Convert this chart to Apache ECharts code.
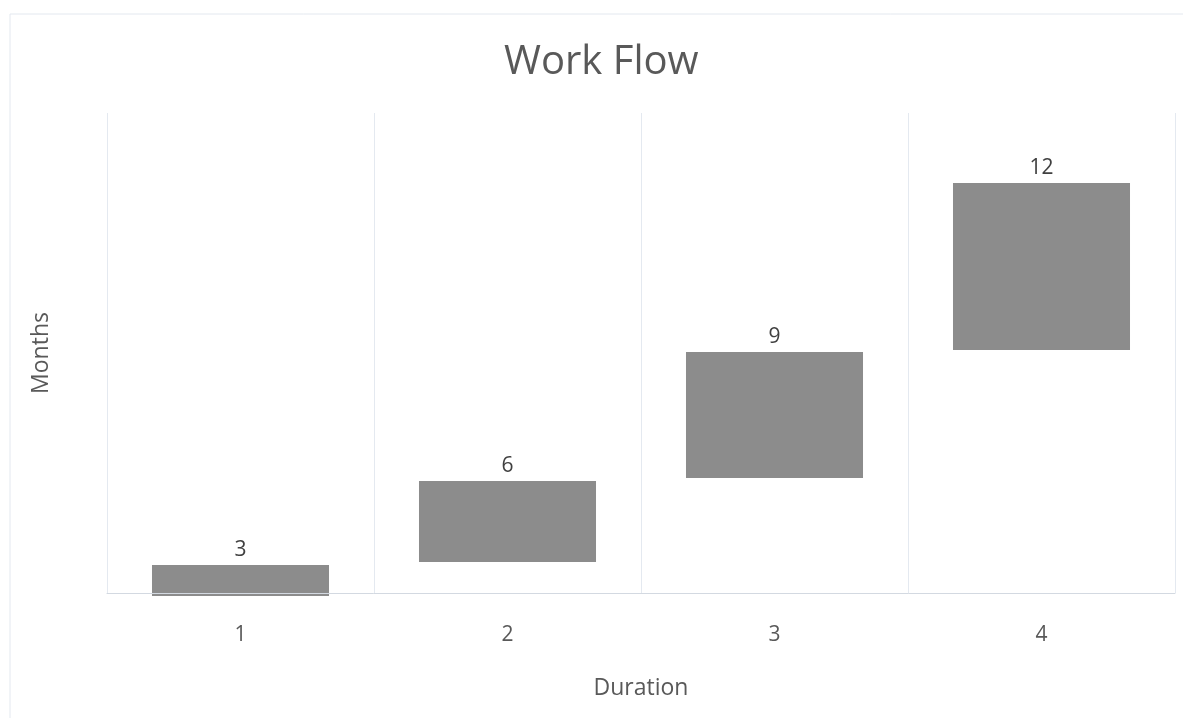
<!DOCTYPE html>
<html>
<head>
<meta charset="utf-8">
<script src="https://cdn.jsdelivr.net/npm/echarts@6/dist/echarts.min.js"></script>
<style>
html,body{margin:0;padding:0;background:#fff;}
#c{width:1183px;height:718px;}
</style>
</head>
<body>
<div id="c"></div>
<script>
// Data
const categories = ['1', '2', '3', '4'];
const barStart = [-0.3, 3.1, 11.5, 24.3];   // bottom of each floating bar
const barEnd = [2.8, 11.2, 24.1, 41.0];     // top of each floating bar
const barLabels = ['3', '6', '9', '12'];

const FONT = '"Open Sans", "Noto Sans", sans-serif';
const chart = echarts.init(document.getElementById('c'));

const seriesData = categories.map((c, i) => [i, barStart[i], barEnd[i]]);

chart.setOption({
  backgroundColor: '#ffffff',
  animation: false,
  graphic: [{
    type: 'rect',
    shape: { x: 10, y: 14, width: 1180, height: 710 },
    style: { fill: 'none', stroke: '#e3e8ef', lineWidth: 1 },
    silent: true,
    z: -1
  }],
  title: {
    text: 'Work Flow',
    left: 499,
    top: 38,
    textStyle: { fontFamily: FONT, fontSize: 40, fontWeight: 'normal', color: '#595959' }
  },
  grid: { left: 107, right: 8, top: 113, bottom: 125 },
  xAxis: {
    type: 'category',
    z: 5,
    data: categories,
    boundaryGap: true,
    name: 'Duration',
    nameLocation: 'middle',
    nameGap: 84,
    nameTextStyle: { fontFamily: FONT, fontSize: 23, color: '#595959' },
    axisLine: { show: true, lineStyle: { color: '#d3d9e1', width: 1 } },
    axisTick: { show: false },
    axisLabel: { fontFamily: FONT, fontSize: 21, color: '#595959', margin: 32 },
    splitLine: { show: true, interval: 0, lineStyle: { color: '#e4e9f0', width: 1 } }
  },
  yAxis: {
    type: 'value',
    min: 0,
    max: 48,
    name: 'Months',
    nameLocation: 'middle',
    nameGap: 54,
    nameTextStyle: { fontFamily: FONT, fontSize: 23, color: '#595959' },
    axisLine: { show: false },
    axisTick: { show: false },
    axisLabel: { show: false },
    splitLine: { show: false }
  },
  series: [{
    type: 'custom',
    z: 2,
    clip: false,
    data: seriesData,
    encode: { x: 0, y: [1, 2] },
    renderItem: function (params, api) {
      const idx = api.value(0);
      const p0 = api.coord([idx, api.value(1)]);
      const p1 = api.coord([idx, api.value(2)]);
      const bandW = api.size([1, 0])[0];
      const w = bandW * 0.663;
      const label = barLabels[params.dataIndex];
      return {
        type: 'group',
        children: [{
          type: 'rect',
          shape: { x: p0[0] - w / 2, y: p1[1], width: w, height: p0[1] - p1[1] },
          style: { fill: '#8c8c8c' }
        }, {
          type: 'text',
          style: {
            text: label,
            x: p1[0],
            y: p1[1] - 4,
            align: 'center',
            verticalAlign: 'bottom',
            fontFamily: FONT,
            fontSize: 21,
            fill: '#404040'
          }
        }]
      };
    }
  }]
});
</script>
</body>
</html>
